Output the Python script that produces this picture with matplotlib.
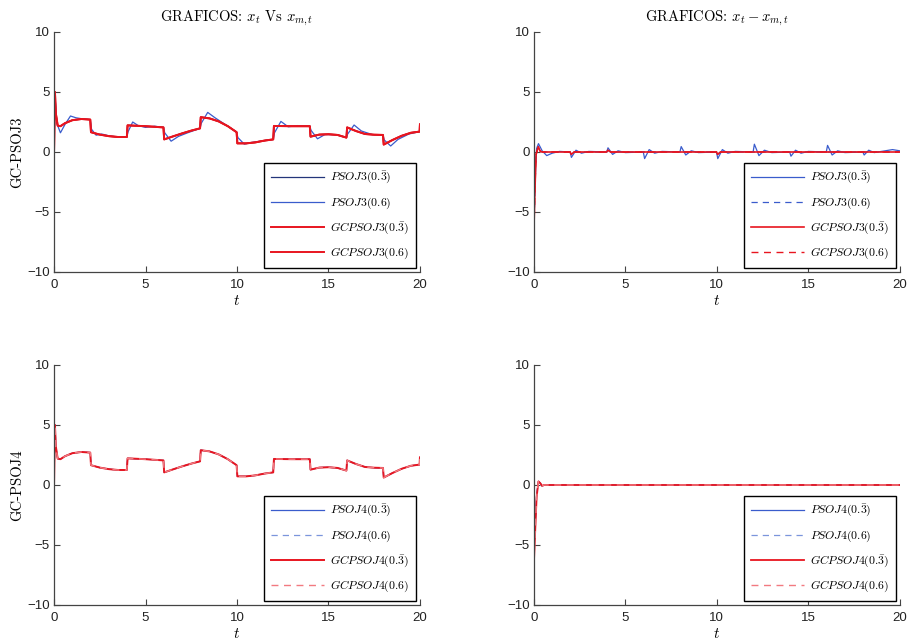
import matplotlib
matplotlib.use("Agg")
import matplotlib.pyplot as plt

plt.rcParams["mathtext.fontset"] = "cm"
plt.rcParams["font.family"] = ["Liberation Sans", "DejaVu Sans"]

# ---- reference trajectory x_{m,t} (GC-PSO tracks it closely) ----
t_ref = [0.0, 0.05, 0.1, 0.2, 0.35, 0.6, 1.0, 1.5, 1.98,
         2.02, 2.5, 3.0, 3.5, 3.98,
         4.02, 5.0, 5.98,
         6.02, 6.5, 7.0, 7.5, 7.98,
         8.02, 8.5, 9.0, 9.5, 9.98,
         10.02, 10.5, 11.0, 11.5, 11.98,
         12.02, 13.0, 13.98,
         14.02, 14.5, 15.0, 15.5, 15.98,
         16.02, 16.5, 17.0, 17.5, 17.98,
         18.02, 18.5, 19.0, 19.5, 19.98, 20.0]
x_ref = [0.0, 5.0, 3.2, 2.2, 2.15, 2.4, 2.65, 2.75, 2.7,
         1.65, 1.45, 1.32, 1.25, 1.25,
         2.22, 2.15, 2.05,
         1.05, 1.3, 1.55, 1.78, 1.97,
         2.9, 2.8, 2.55, 2.15, 1.65,
         0.72, 0.72, 0.8, 0.95, 1.05,
         2.17, 2.15, 2.15,
         1.28, 1.45, 1.48, 1.42, 1.2,
         2.05, 1.75, 1.5, 1.44, 1.42,
         0.62, 1.0, 1.35, 1.6, 1.7, 2.3]

# ---- PSO J3 (0.6) response, with overshoot at each set-point change ----
t_pso3 = [0.0, 0.05, 0.15, 0.35, 0.6, 0.9, 1.2, 1.6, 1.98,
          2.05, 2.3, 2.6, 3.0, 3.5, 3.98,
          4.05, 4.3, 4.6, 5.0, 5.5, 5.98,
          6.05, 6.4, 6.8, 7.3, 7.98,
          8.05, 8.4, 8.8, 9.5, 9.98,
          10.05, 10.4, 10.8, 11.5, 11.98,
          12.05, 12.4, 12.8, 13.3, 13.98,
          14.05, 14.4, 14.8, 15.4, 15.98,
          16.05, 16.4, 16.8, 17.4, 17.98,
          18.05, 18.4, 18.8, 19.4, 19.98, 20.0]
x_pso3 = [0.0, 4.8, 2.4, 1.6, 2.3, 3.0, 2.85, 2.75, 2.7,
          1.9, 1.4, 1.5, 1.35, 1.25, 1.25,
          1.7, 2.5, 2.2, 2.05, 2.15, 2.05,
          1.6, 0.9, 1.3, 1.6, 1.97,
          2.4, 3.3, 2.85, 2.15, 1.65,
          1.2, 0.65, 0.8, 0.95, 1.05,
          1.6, 2.55, 2.1, 2.2, 2.15,
          1.8, 1.1, 1.45, 1.45, 1.2,
          1.5, 2.25, 1.75, 1.45, 1.42,
          1.0, 0.5, 1.05, 1.5, 1.7, 2.3]

# ---- tracking errors x_t - x_{m,t}, J3 ----
t_e_pso3 = [0.0, 0.05, 0.15, 0.25, 0.45, 0.7, 1.0, 1.4, 1.98,
            2.05, 2.3, 2.6, 3.0, 3.98,
            4.05, 4.3, 4.6, 5.0, 5.98,
            6.05, 6.3, 6.6, 7.0, 7.98,
            8.05, 8.3, 8.6, 9.0, 9.98,
            10.05, 10.3, 10.6, 11.0, 11.98,
            12.05, 12.3, 12.6, 13.0, 13.98,
            14.05, 14.3, 14.6, 15.0, 15.98,
            16.05, 16.3, 16.6, 17.0, 17.98,
            18.05, 18.3, 18.6, 19.0, 19.6, 20.0]
e_pso3 = [-5.2, -2.0, 0.3, 0.7, 0.1, -0.3, -0.1, 0.05, 0.0,
          -0.45, 0.15, -0.1, 0.05, 0.0,
          0.35, -0.2, 0.1, -0.05, 0.0,
          -0.55, 0.2, -0.1, 0.05, 0.0,
          0.45, -0.25, 0.1, -0.05, 0.0,
          -0.55, 0.2, -0.1, 0.05, 0.0,
          0.65, -0.3, 0.15, -0.05, 0.0,
          -0.35, 0.15, -0.1, 0.05, 0.0,
          0.55, -0.25, 0.1, -0.05, 0.0,
          -0.25, 0.15, -0.05, 0.05, 0.2, 0.1]

t_e_gc3 = [0.0, 0.06, 0.12, 0.24, 0.35, 0.5, 1.98, 2.04, 2.2,
           3.98, 4.04, 4.2, 9.98, 10.04, 10.2, 20.0]
e_gc3 = [-6.5, -3.0, -0.2, 0.45, 0.05, 0.0, 0.0, -0.2, 0.0,
         0.0, 0.15, 0.0, 0.0, -0.2, 0.0, 0.0]

# ---- tracking errors x_t - x_{m,t}, J4 ----
t_e4 = [0.0, 0.08, 0.15, 0.25, 0.35, 0.45, 0.55, 20.0]
e_pso4 = [-5.5, -3.0, -0.8, 0.3, 0.15, -0.1, 0.0, 0.0]
e_gc4 = [-6.5, -3.5, -1.0, 0.3, 0.15, -0.08, 0.0, 0.0]

lab3 = [r"$PSOJ$3(0.$\bar{3}$)", r"$PSOJ$3(0.6)",
        r"$GCPSOJ$3(0.$\bar{3}$)", r"$GCPSOJ$3(0.6)"]
lab4 = [r"$PSOJ$4(0.$\bar{3}$)", r"$PSOJ$4(0.6)",
        r"$GCPSOJ$4(0.$\bar{3}$)", r"$GCPSOJ$4(0.6)"]

C_NAVY = "#23357a"
C_BLUE = "#3a5ccc"
C_LBLUE = "#7b95dc"
C_RED = "#e8151f"
C_LRED = "#f27a80"

fig = plt.figure(figsize=(9.08, 6.40), dpi=100)
W, H = 0.403, 0.375
ax_tl = fig.add_axes([0.0595, 0.575, W, H])
ax_tr = fig.add_axes([0.588, 0.575, W, H])
ax_bl = fig.add_axes([0.0595, 0.0547, W, H])
ax_br = fig.add_axes([0.588, 0.0547, W, H])


def style(ax):
    ax.set_xlim(0, 20)
    ax.set_ylim(-10, 10)
    ax.set_xticks([0, 5, 10, 15, 20])
    ax.set_yticks([-10, -5, 0, 5, 10])
    for s in ("top", "right"):
        ax.spines[s].set_visible(False)
    for s in ("left", "bottom"):
        ax.spines[s].set_color("#444444")
        ax.spines[s].set_linewidth(0.9)
    ax.tick_params(direction="in", length=4, width=0.8, color="#444444",
                   labelsize=9.5, labelcolor="#222222")
    ax.tick_params(axis="x", pad=5)
    ax.tick_params(axis="y", pad=3)
    ax.set_xlabel(r"$t$", fontsize=11, labelpad=2)


def legend(ax):
    leg = ax.legend(loc="lower right", prop={"family": "cmr10", "size": 8.5},
                    frameon=True, fancybox=False,
                    edgecolor="black", framealpha=1, handlelength=4.5,
                    handletextpad=0.5, labelspacing=0.8, borderpad=0.6,
                    borderaxespad=0.3)
    leg.get_frame().set_linewidth(1.0)


for ax in (ax_tl, ax_tr, ax_bl, ax_br):
    style(ax)

# top-left: outputs, J3
ax_tl.plot(t_ref, x_ref, color=C_NAVY, lw=0.9, label=lab3[0])
ax_tl.plot(t_pso3, x_pso3, color=C_BLUE, lw=0.9, label=lab3[1])
ax_tl.plot(t_ref, x_ref, color=C_RED, lw=1.4, label=lab3[2])
ax_tl.plot(t_ref, x_ref, color=C_RED, lw=1.4, label=lab3[3])
ax_tl.set_title(r"GRAFICOS: $x_t$ Vs $x_{m,t}$", family="cmr10", fontsize=10.5, pad=8)
ax_tl.set_ylabel("GC-PSOJ3", family="cmr10", fontsize=10.5, labelpad=2)
legend(ax_tl)

# top-right: errors, J3
ax_tr.plot(t_e_pso3, e_pso3, color=C_BLUE, lw=0.9, label=lab3[0])
ax_tr.plot(t_e_gc3, e_gc3, color=C_BLUE, lw=0.9, ls=(0, (5, 4)), label=lab3[1])
ax_tr.plot(t_e_gc3, e_gc3, color=C_RED, lw=1.2, label=lab3[2])
ax_tr.plot(t_e_gc3, e_gc3, color=C_RED, lw=1.0, ls=(0, (5, 4)), label=lab3[3])
ax_tr.set_title(r"GRAFICOS: $x_t - x_{m,t}$", family="cmr10", fontsize=10.5, pad=8)
legend(ax_tr)

# bottom-left: outputs, J4
ax_bl.plot(t_ref, x_ref, color=C_BLUE, lw=0.9, label=lab4[0])
ax_bl.plot(t_ref, x_ref, color=C_LBLUE, lw=0.9, ls=(0, (5, 4)), label=lab4[1])
ax_bl.plot(t_ref, x_ref, color=C_RED, lw=1.4, label=lab4[2])
ax_bl.plot(t_ref, x_ref, color=C_LRED, lw=1.0, ls=(0, (5, 4)), label=lab4[3])
ax_bl.set_ylabel("GC-PSOJ4", family="cmr10", fontsize=10.5, labelpad=2)
legend(ax_bl)

# bottom-right: errors, J4
ax_br.plot(t_e4, e_pso4, color=C_BLUE, lw=0.9, label=lab4[0])
ax_br.plot(t_e4, e_pso4, color=C_LBLUE, lw=0.9, ls=(0, (5, 4)), label=lab4[1])
ax_br.plot(t_e4, e_gc4, color=C_RED, lw=1.3, label=lab4[2])
ax_br.plot(t_e4, e_gc4, color=C_LRED, lw=1.0, ls=(0, (5, 4)), label=lab4[3])
legend(ax_br)

fig.savefig("out.png", dpi=100)
